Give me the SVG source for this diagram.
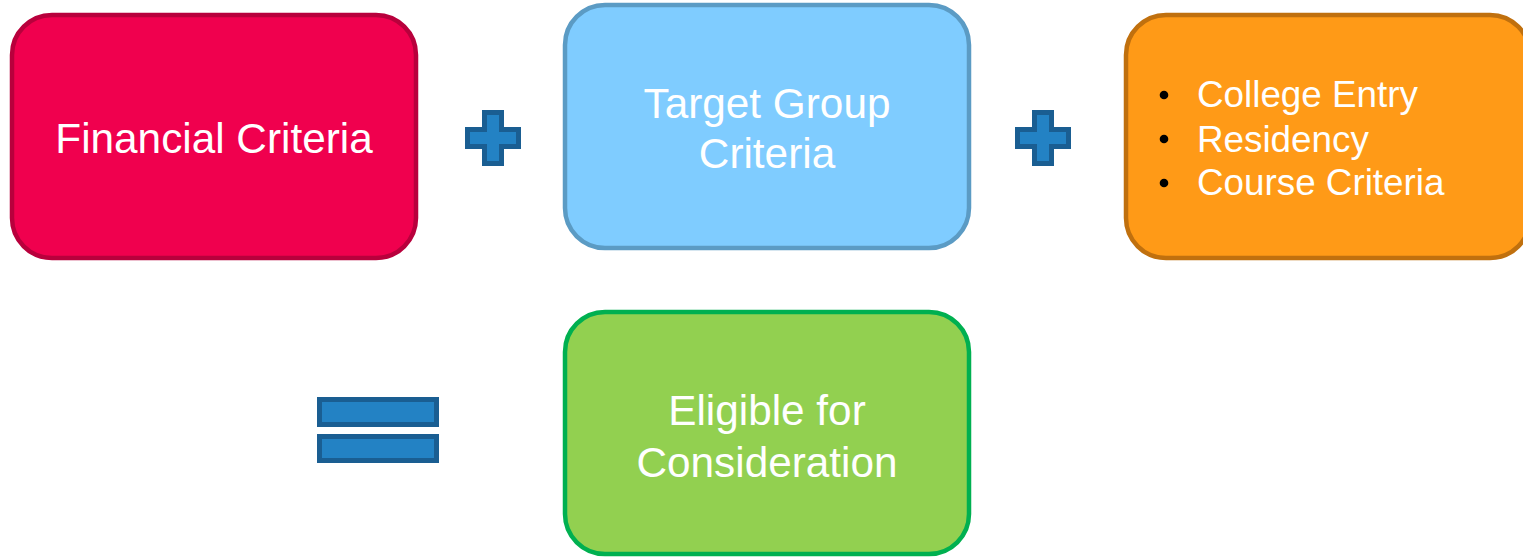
<svg xmlns="http://www.w3.org/2000/svg" width="1523" height="557" viewBox="0 0 1523 557">
<style>
.box{stroke-width:4.5}
.t{font-family:"Liberation Sans",Arial,sans-serif;fill:#ffffff;font-size:42.3px;text-anchor:middle}
.b{font-family:"Liberation Sans",Arial,sans-serif;fill:#ffffff;font-size:36.8px}
.dot{fill:#000000}
.op{fill:#2382C4;stroke:#1A5E92;stroke-width:5}
</style>
<rect width="1523" height="557" fill="#ffffff"/>
<g id="financial">
<rect class="box" x="12" y="15" width="404" height="243" rx="40" fill="#F0004E" stroke="#B8003C"/>
<text class="t" x="214" y="153">Financial Criteria</text>
</g>
<g id="target">
<rect class="box" x="565" y="5" width="404" height="243" rx="40" fill="#7FCCFF" stroke="#5B9BC4"/>
<text class="t" x="767" y="118">Target Group</text>
<text class="t" x="767" y="168">Criteria</text>
</g>
<g id="other">
<rect class="box" x="1126" y="15" width="404" height="243" rx="40" fill="#FF9A17" stroke="#C0700E"/>
<circle class="dot" cx="1164" cy="95" r="4.3"/>
<circle class="dot" cx="1164" cy="139" r="4.3"/>
<circle class="dot" cx="1164" cy="183" r="4.3"/>
<text class="b" x="1197" y="107">College Entry</text>
<text class="b" x="1197" y="152">Residency</text>
<text class="b" x="1197" y="195">Course Criteria</text>
</g>
<g id="eligible">
<rect class="box" x="565" y="312" width="404" height="242" rx="40" fill="#92D050" stroke="#00B050"/>
<text class="t" x="767" y="425">Eligible for</text>
<text class="t" x="767" y="477">Consideration</text>
</g>
<g id="operators">
<path id="plus1" class="op" d="M484.5 112.5h17v17h17v17h-17v17h-17v-17h-17v-17h17z"/>
<path id="plus2" class="op" d="M1034.5 112.5h17v17h17v17h-17v17h-17v-17h-17v-17h17z"/>
<g id="equals">
<rect class="op" x="319.5" y="399.5" width="117" height="25"/>
<rect class="op" x="319.5" y="436.5" width="117" height="24"/>
</g>
</g>
</svg>
